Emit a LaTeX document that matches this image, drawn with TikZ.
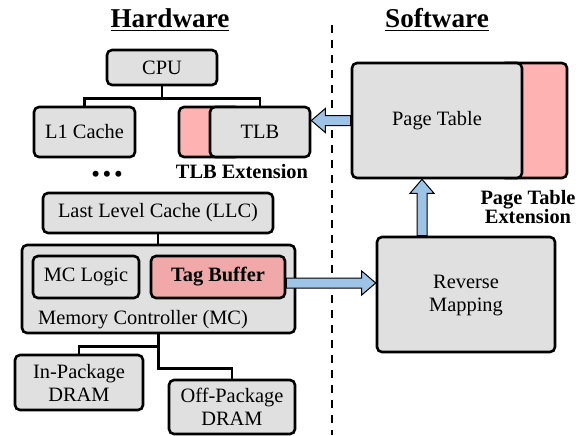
\documentclass[tikz,border=0pt]{standalone}
\usepackage{fontspec}
\setmainfont{Liberation Serif}
\usepackage{xcolor}
\usepackage{tikz}
\usetikzlibrary{calc,positioning}

\definecolor{boxgray}{RGB}{224,224,224}
\definecolor{extpink}{RGB}{255,178,178}
\definecolor{tagpink}{RGB}{240,168,168}
\definecolor{arrowblue}{RGB}{157,195,230}

\begin{document}
\begin{tikzpicture}[x=0.5pt,y=-0.5pt,
  box/.style={draw=black,line width=1.3pt,rounded corners=2.5pt,fill=boxgray,align=center,inner sep=0pt,font=\fontsize{10.2}{11.5}\selectfont},
  extbox/.style={box,fill=extpink},
  wire/.style={line width=1.4pt},
  bigarr/.style={draw=black,line width=0.5pt,fill=arrowblue},
  title/.style={font=\fontsize{13.6}{16}\selectfont\bfseries},
  note/.style={font=\fontsize{10.2}{9.6}\selectfont\bfseries,align=center}]
\useasboundingbox (0,0) rectangle (587,435);

% Titles and divider
\node[title] (hwtitle) at (170,20) {\underline{Hardware}};
\node[title] (swtitle) at (437,20) {\underline{Software}};
\coordinate (divtop) at (332,25);
\coordinate (divbot) at (332,435);
\draw[line width=1.2pt,dash pattern=on 4pt off 3.5pt] (divtop) -- (divbot);

% Hardware side
\node[box,minimum width=55pt,minimum height=17.5pt] (cpu) at (162,67.5) {CPU};
\node[box,minimum width=50.5pt,minimum height=25pt] (l1) at (84.5,132) {L1 Cache};
\node[extbox,minimum width=30.5pt,minimum height=25pt] (tlbext) at (209.5,132) {};
\node[box,minimum width=50pt,minimum height=25pt] (tlb) at (260,132) {TLB};
\node[note] (tlbnote) at (242,172) {TLB Extension};
\node[font=\fontsize{11}{12}\selectfont\bfseries] (dots) at (107,176) {\textbullet\,\textbullet\,\textbullet};
\node[box,minimum width=115pt,minimum height=20pt] (llc) at (158,213) {Last Level Cache (LLC)};
\node[box,minimum width=136.5pt,minimum height=44pt] (mc) at (158.5,289) {};
\node[box,minimum width=53pt,minimum height=21pt] (mclogic) at (86,277) {MC Logic};
\node[box,fill=tagpink,minimum width=67pt,minimum height=21pt,font=\fontsize{10.2}{11.5}\selectfont\bfseries] (tag) at (218,277) {Tag Buffer};
\node[font=\fontsize{10.2}{11.5}\selectfont] (mclabel) at (143,320) {Memory Controller (MC)};
\node[box,minimum width=64pt,minimum height=27.5pt] (inpkg) at (79,382.5) {In-Package\\DRAM};
\node[box,minimum width=63pt,minimum height=27pt] (offpkg) at (232,407) {Off-Package\\DRAM};

% Tree wires
\draw[wire] (cpu.south) -- ++(0,12) -| (l1.north);
\draw[wire] (cpu.south) -- ++(0,12) -| (tlb.north);
\draw[wire] (llc.south) -- (llc.south |- mc.north);
\draw[wire] (mc.south) -- ++(0,12) -| (inpkg.north);
\draw[wire] (mc.south) -- ++(0,34) -| (offpkg.north);

% Software side
\node[extbox,minimum width=33.5pt,minimum height=57.5pt] (ptext) at (533.5,120.5) {};
\node[box,minimum width=85pt,minimum height=57.5pt] (pt) at (437,120.5) {Page Table};
\node[note] (ptnote) at (528,207) {Page Table\\Extension};
\node[box,minimum width=89pt,minimum height=57.5pt] (rm) at (466,294.5) {\\[-4pt]Reverse\\Mapping};

% Fat arrows
\coordinate (tip1) at (pt.west -| tlb.east);
\draw[bigarr] (tip1) -- ++(14,-12) -- ++(0,7) -- ($(pt.west)+(0,-5)$)
  -- ($(pt.west)+(0,5)$) -- ($(tip1)+(14,5)$) -- ++(0,7) -- cycle;

\coordinate (tail2) at ($(rm.north)+(-44,0)$);
\coordinate (tip2) at (tail2 |- pt.south);
\draw[bigarr] (tip2) -- ++(-12,14) -- ++(7,0) -- ($(tail2)+(-5,0)$)
  -- ($(tail2)+(5,0)$) -- ($(tip2)+(5,14)$) -- ++(7,0) -- cycle;

\coordinate (tail3) at ($(tag.east)+(0,6)$);
\coordinate (tip3) at (tail3 -| rm.west);
\draw[bigarr] (tip3) -- ++(-14,-12) -- ++(0,7) -- ($(tail3)+(0,-5)$)
  -- ($(tail3)+(0,5)$) -- ($(tip3)+(-14,5)$) -- ++(0,7) -- cycle;
\end{tikzpicture}
\end{document}
